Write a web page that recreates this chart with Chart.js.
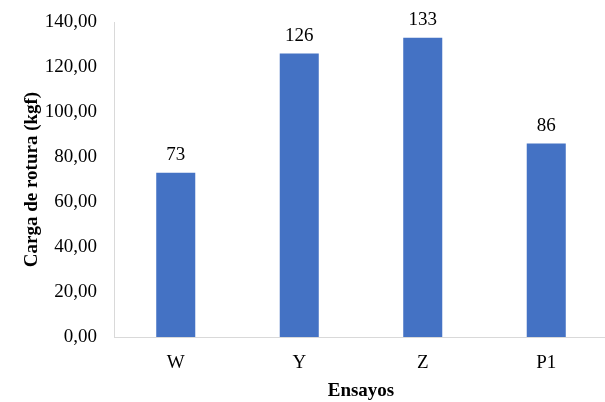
<!DOCTYPE html>
<html>
<head>
<meta charset="utf-8">
<script src="https://cdn.jsdelivr.net/npm/chart.js@4/dist/chart.umd.min.js"></script>
<style>
  html, body { margin: 0; padding: 0; background: #fff; overflow: hidden; }
  #wrap { position: relative; width: 608px; height: 402px; }
</style>
</head>
<body>
<div id="wrap"><canvas id="c"></canvas></div>
<script>
// Breaking load per test series
const categories = ['W', 'Y', 'Z', 'P1'];
const loads = [73, 126, 133, 86];
const yTicks = [0, 20, 40, 60, 80, 100, 120, 140];

const serif = '"Liberation Serif", "Times New Roman", serif';
const barColor = '#4472C4';
const axisColor = '#d9d9d9';

// Writes each bar's value just above it
const valueLabels = {
  id: 'valueLabels',
  afterDatasetsDraw(chart) {
    const ctx = chart.ctx;
    const meta = chart.getDatasetMeta(0);
    ctx.save();
    ctx.font = '19px ' + serif;
    ctx.fillStyle = '#000';
    ctx.textAlign = 'center';
    ctx.textBaseline = 'alphabetic';
    meta.data.forEach((bar, i) => {
      ctx.fillText(String(loads[i]), bar.x, bar.y - 13);
    });
    ctx.restore();
  }
};

new Chart(document.getElementById('c'), {
  type: 'bar',
  data: {
    labels: categories,
    datasets: [{
      data: loads,
      backgroundColor: barColor,
      borderWidth: 0,
      barPercentage: 0.316,
      categoryPercentage: 1
    }]
  },
  options: {
    responsive: true,
    maintainAspectRatio: false,
    animation: false,
    layout: { padding: { top: 22, right: 0, bottom: 0, left: 0 } },
    plugins: { legend: { display: false }, tooltip: { enabled: false } },
    scales: {
      x: {
        grid: { display: false },
        border: { display: true, color: axisColor, width: 1 },
        ticks: { color: '#000', font: { family: serif, size: 19 }, padding: 7 },
        title: {
          display: true, text: 'Ensayos', color: '#000',
          font: { family: serif, size: 19, weight: 'bold' },
          padding: { top: 0, bottom: 0 }
        },
        afterFit(scale) { scale.height = 65; scale.paddingLeft = 0; scale.paddingRight = 0; }
      },
      y: {
        min: 0, max: 140,
        grid: { display: false, drawTicks: false },
        border: { display: true, color: axisColor, width: 1 },
        afterBuildTicks(scale) { scale.ticks = yTicks.map(v => ({ value: v })); },
        ticks: {
          color: '#000', font: { family: serif, size: 19 }, padding: 17,
          callback: v => Number(v).toFixed(2).replace('.', ',')
        },
        title: {
          display: true, text: 'Carga de rotura (kgf)', color: '#000',
          font: { family: serif, size: 19, weight: 'bold' },
          padding: { top: 21, bottom: 0 }
        },
        afterFit(scale) { scale.width = 114; scale.paddingTop = 0; scale.paddingBottom = 0; }
      }
    }
  },
  plugins: [valueLabels]
});
</script>
</body>
</html>
